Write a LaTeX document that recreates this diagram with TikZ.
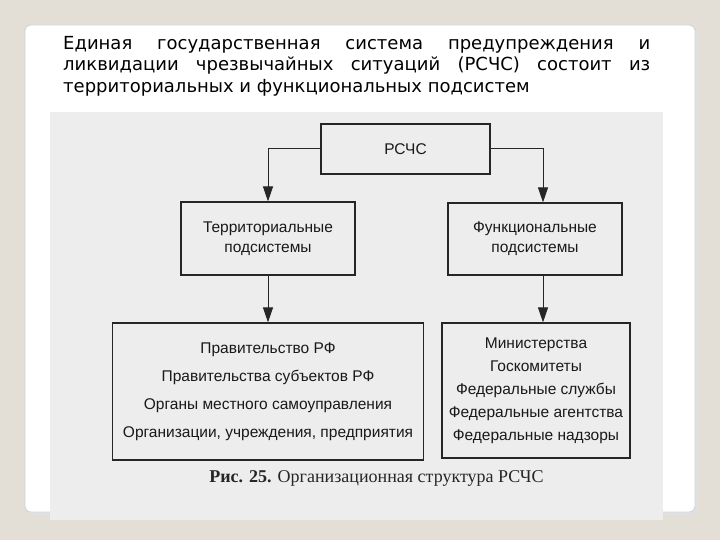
\documentclass[tikz,border=0pt]{standalone}
\usepackage{fontspec}
\setmainfont{Liberation Serif}
\newfontfamily\slidefont{DejaVu Sans}
\newfontfamily\scanfont{Liberation Sans}
\usetikzlibrary{arrows.meta}
\definecolor{slidebg}{RGB}{228,223,214}
\definecolor{scangray}{RGB}{237,237,237}
\definecolor{panelline}{RGB}{205,210,218}

\begin{document}
\begin{tikzpicture}[x=1pt,y=-1pt,>={Triangle[length=15pt,width=10pt]},
  box/.style={draw=black!85,line width=1.2pt,fill=scangray,inner sep=0pt,align=center,text=black!90,font=\scanfont\fontsize{15.5}{20}\selectfont},
  link/.style={->,line width=1pt,black!85}]
\useasboundingbox (0,0) rectangle (720,540);
\fill[slidebg] (0,0) rectangle (720,540);
% slide panel
\fill[black!12,rounded corners=6pt] (27,27) rectangle (698,515);
\filldraw[fill=white,draw=panelline,line width=0.8pt,rounded corners=6pt] (25,25) rectangle (695,512);
\node[anchor=north west,inner sep=0pt,text width=587pt,align=justify,font=\slidefont\fontsize{18}{21.5}\selectfont] (intro) at (63,36) {Единая государственная система предупреждения и\linebreak ликвидации чрезвычайных ситуаций (РСЧС) состоит из\linebreak территориальных и функциональных подсистем};
% scanned figure
\fill[scangray] (50,112) rectangle (663,520);
\node[box,minimum width=169pt,minimum height=50pt] (rschs) at (405.5,149) {РСЧС};
\node[box,minimum width=174pt,minimum height=73pt] (terr) at (268,238.5) {Территориальные\\подсистемы};
\node[box,minimum width=174pt,minimum height=72pt] (func) at (535,239) {Функциональные\\подсистемы};
\node[box,minimum width=311pt,minimum height=137pt,font=\scanfont\fontsize{15.5}{28}\selectfont] (terrlist) at (268,391.5) {Правительство РФ\\Правительства субъектов РФ\\Органы местного самоуправления\\Организации, учреждения, предприятия};
\node[box,minimum width=188pt,minimum height=135pt,font=\scanfont\fontsize{15.5}{23}\selectfont] (funclist) at (536,390.5) {Министерства\\Госкомитеты\\Федеральные службы\\Федеральные агентства\\Федеральные надзоры};
\draw[link] (rschs.west) -| (terr.north);
\draw[link] (rschs.east) -| ([xshift=8pt]func.north);
\draw[link] (terr.south) -- (terrlist.north);
\draw[link] ([xshift=8pt]func.south) -- ([xshift=8pt]func.south |- funclist.north);
\node[font=\fontsize{18}{22}\selectfont,text=black!85] (caption) at (376.5,478) {\textbf{Рис. 25.} Организационная структура РСЧС};
\end{tikzpicture}
\end{document}
